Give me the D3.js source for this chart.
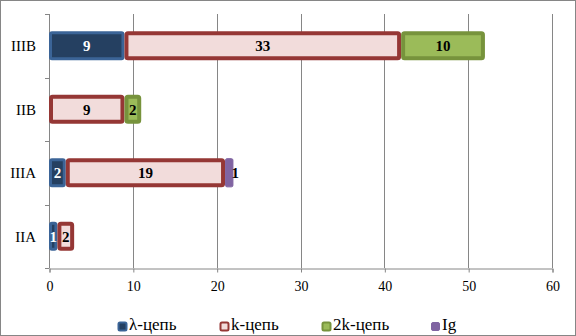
<!DOCTYPE html>
<html>
<head>
<meta charset="utf-8">
<script src="https://cdn.jsdelivr.net/npm/d3@7"></script>
<style>
  body { margin: 0; background: #fff; }
  text { font-family: "Liberation Serif", "Times New Roman", serif; }
</style>
</head>
<body>
<svg id="chart" width="576" height="336"></svg>
<script>
// categories, top to bottom
const categories = ["IIIB", "IIB", "IIIA", "IIA"];
const seriesNames = ["λ-цепь", "k-цепь", "2k-цепь", "Ig"];
const lambdaValues = [9, 0, 2, 1];
const kValues = [33, 9, 19, 2];
const k2Values = [10, 2, 0, 0];
const igValues = [0, 0, 1, 0];
const xTicks = [0, 10, 20, 30, 40, 50, 60];

const seriesValues = [lambdaValues, kValues, k2Values, igValues];
const fills = ["#254061", "#F2DCDB", "#9BBB59", "#8064A2"];
const strokes = ["#3B6497", "#953735", "#77933C", "#8064A2"];
const strokeW = [3, 4, 4, 1];
const labelColors = ["#fff", "#000", "#000", "#000"];

const width = 576, height = 336;
const pLeft = 49, pRight = 552, pTop = 14, pBottom = 268;

const svg = d3.select("#chart");

// outer frame
svg.append("rect")
  .attr("x", 0.5).attr("y", 0.5)
  .attr("width", width - 1).attr("height", height - 1)
  .attr("fill", "#fff").attr("stroke", "#868686");

const x = d3.scaleLinear().domain([0, 60]).range([pLeft, pRight]);
const y = d3.scaleBand().domain(categories).range([pTop, pBottom])
  .paddingInner(0.54).paddingOuter(0.27);

// vertical gridlines
svg.append("g")
  .selectAll("line")
  .data(xTicks.slice(1))
  .join("line")
  .attr("x1", d => Math.round(x(d)) + 0.5)
  .attr("x2", d => Math.round(x(d)) + 0.5)
  .attr("y1", pTop)
  .attr("y2", pBottom)
  .attr("stroke", "#868686");

// x axis
const xAxis = svg.append("g")
  .attr("transform", `translate(0.5,${pBottom + 0.5})`)
  .call(d3.axisBottom(x).tickValues(xTicks).tickSize(4).tickPadding(9));
xAxis.select(".domain").attr("stroke", "#868686");
xAxis.selectAll(".tick line").attr("stroke", "#868686");
xAxis.selectAll("text").attr("font-size", 14).attr("fill", "#000")
  .attr("font-family", "Liberation Serif");

// y axis line with ticks at band boundaries
const step = y.step();
const yGrp = svg.append("g");
yGrp.append("line")
  .attr("x1", pLeft + 0.5).attr("x2", pLeft + 0.5)
  .attr("y1", pTop).attr("y2", pBottom)
  .attr("stroke", "#868686");
yGrp.selectAll(".yt")
  .data(d3.range(categories.length + 1))
  .join("line")
  .attr("class", "yt")
  .attr("x1", pLeft - 4).attr("x2", pLeft + 0.5)
  .attr("y1", i => Math.round(pTop + i * step) + 0.5)
  .attr("y2", i => Math.round(pTop + i * step) + 0.5)
  .attr("stroke", "#868686");
yGrp.selectAll(".ylab")
  .data(categories)
  .join("text")
  .attr("class", "ylab")
  .attr("x", 36)
  .attr("y", d => y(d) + y.bandwidth() / 2)
  .attr("dy", "0.35em")
  .attr("text-anchor", "end")
  .attr("font-size", 15)
  .text(d => d);

// stack the series
const rows = categories.map((c, i) => {
  const r = { cat: c };
  seriesNames.forEach((s, j) => r[s] = seriesValues[j][i]);
  return r;
});
const stacked = d3.stack().keys(seriesNames)(rows);

const bars = svg.append("g");
stacked.forEach((layer, j) => {
  bars.selectAll(".s" + j)
    .data(layer.filter(d => d[1] - d[0] > 0))
    .join("rect")
    .attr("class", "s" + j)
    .attr("x", d => x(d[0]) + strokeW[j] / 2)
    .attr("y", d => y(d.data.cat) + strokeW[j] / 2)
    .attr("width", d => Math.max(1, x(d[1]) - x(d[0]) - strokeW[j]))
    .attr("height", y.bandwidth() - strokeW[j])
    .attr("rx", 1.5)
    .attr("fill", fills[j])
    .attr("stroke", strokes[j])
    .attr("stroke-width", strokeW[j]);
});

// value labels
stacked.forEach((layer, j) => {
  bars.selectAll(".l" + j)
    .data(layer.filter(d => d[1] - d[0] > 0))
    .join("text")
    .attr("class", "l" + j)
    .attr("x", d => (x(d[0]) + x(d[1])) / 2 + (j === 3 ? 6 : 0))
    .attr("y", d => y(d.data.cat) + y.bandwidth() / 2)
    .attr("dy", "0.35em")
    .attr("text-anchor", "middle")
    .attr("font-size", 15)
    .attr("font-weight", "bold")
    .attr("fill", labelColors[j])
    .text(d => d[1] - d[0]);
});

// legend
const legendX = [118, 220, 322, 431];
const leg = svg.append("g");
seriesNames.forEach((s, j) => {
  const g = leg.append("g").attr("transform", `translate(${legendX[j]},322)`);
  g.append("rect")
    .attr("x", 0.5).attr("y", 0.5)
    .attr("width", 8).attr("height", 8)
    .attr("rx", 1.5)
    .attr("fill", fills[j])
    .attr("stroke", strokes[j])
    .attr("stroke-width", j === 3 ? 1 : 2);
  g.append("text")
    .attr("x", 11)
    .attr("y", 8)
    .attr("font-size", 17)
    .text(s);
});
</script>
</body>
</html>
